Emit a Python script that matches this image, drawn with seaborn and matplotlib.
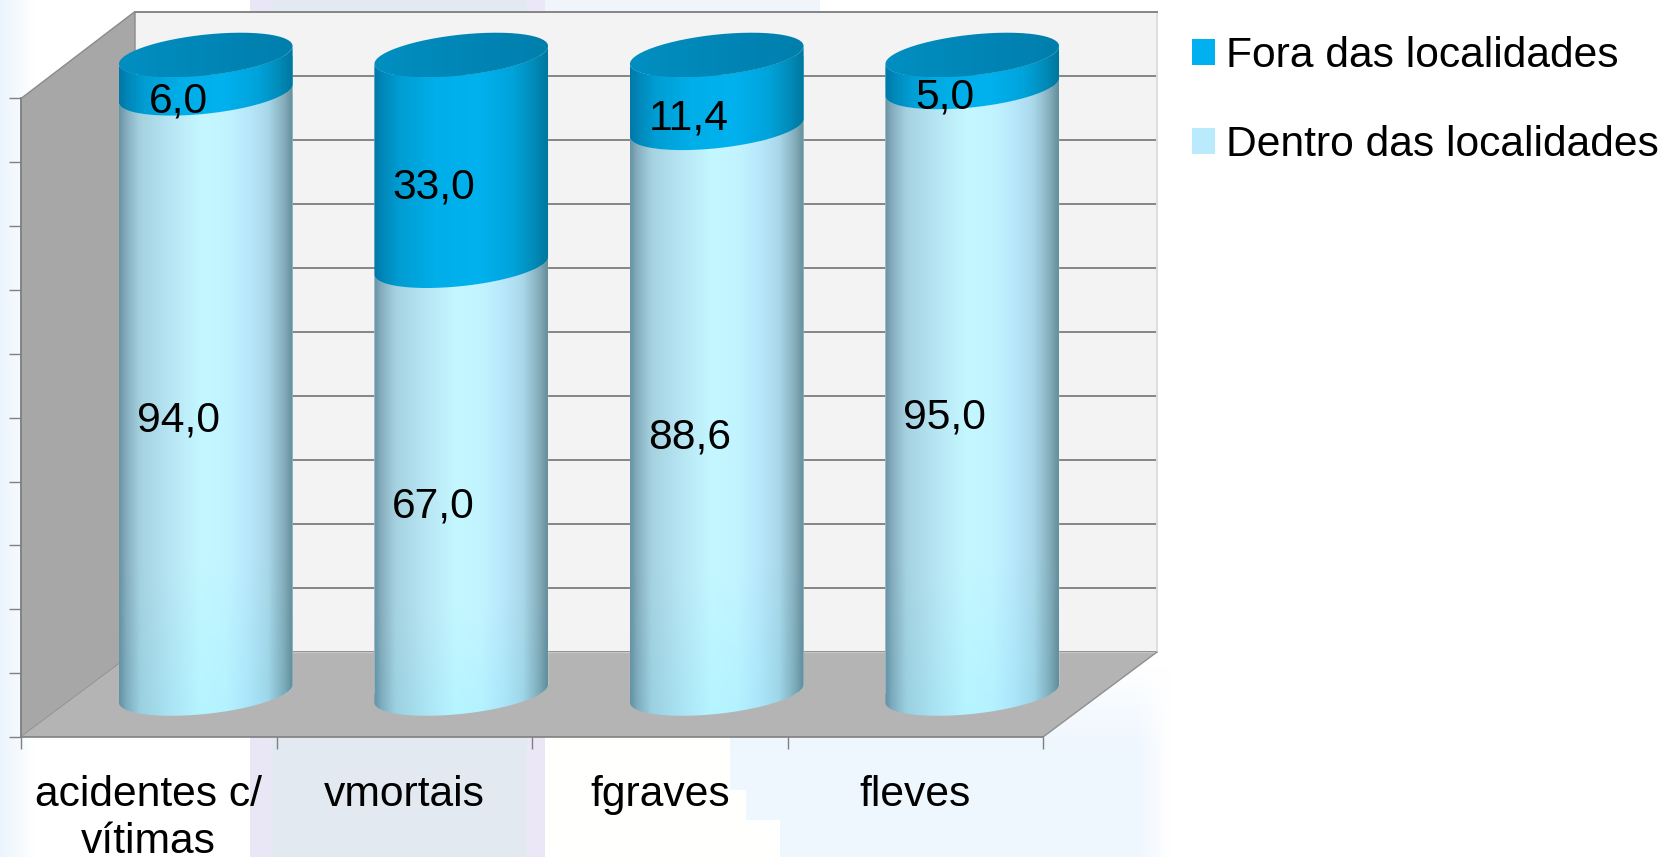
import numpy as np
import matplotlib
matplotlib.use("Agg")
import matplotlib.pyplot as plt
import seaborn as sns
from matplotlib.colors import LinearSegmentedColormap, to_rgb
from matplotlib.patches import Patch, PathPatch, Polygon
from matplotlib.path import Path

# Percentages per indicator
categories = ["acidentes c/\nvítimas", "vmortais", "fgraves", "fleves"]
dentro = [94.0, 67.0, 88.6, 95.0]
fora = [6.0, 33.0, 11.4, 5.0]
series_names = ["Fora das localidades", "Dentro das localidades"]
value_ticks = list(range(0, 101, 10))

W, H = 1661, 857
FONT = ["Liberation Sans", "DejaVu Sans"]
TEXT_SIZE = 30.7
FORA_COLOR = "#00B0F0"
DENTRO_COLOR = "#B9EBFD"
GRID = "#868686"

sns.set_theme(style="white")
plt.rcParams["font.family"] = FONT

fig = plt.figure(figsize=(W / 100, H / 100), dpi=100, facecolor="white")


def axes_at(left, top, right, bottom, z):
    """Axes placed by pixel edges, measured from the top left of the figure."""
    a = fig.add_axes([left / W, 1 - bottom / H, (right - left) / W, (bottom - top) / H])
    a.set_zorder(z)
    return a


# Faint slide artwork behind the chart
canvas = np.ones((H, W, 3))
def tint(x0, x1, y0, y1, color):
    canvas[y0:y1, x0:x1] = to_rgb(color)
tint(545, 820, 0, 60, "#eff5fb")
tint(545, 780, 60, H, "#fffffd")
tint(250, 272, 0, H, "#e9e6f5")
tint(527, 545, 0, H, "#ebe7f6")
tint(272, 527, 0, H, "#e2e9f1")
pale = np.array(to_rgb("#eef6fe"))
xx, yy = np.meshgrid(np.arange(W), np.arange(H))
left_limit = np.select([yy < 790, yy < 820], [730, 746], 780)
alpha = np.clip((1170 - xx) / 34, 0, 1) * np.clip((yy - 665) / 80, 0, 1) * (xx >= left_limit)
canvas = canvas * (1 - alpha[..., None]) + pale * alpha[..., None]
edge = np.clip(1 - np.arange(W) / 34, 0, 1)[None, :, None]
canvas = canvas * (1 - edge) + edge * np.array(to_rgb("#ebf4fd"))

bg = axes_at(0, 0, W, H, 0)
bg.imshow(canvas, aspect="auto", interpolation="bilinear")
bg.axis("off")

# Box geometry: front plane, and how far the back wall is pushed away
x0, x1, y_top, y_bot = 21, 1043, 98.5, 737
dx, dy = 114, 87

# Back wall with its gridlines
back = axes_at(x0 + dx, y_top - dy, x1 + dx, y_bot - dy + 2, 1)
back.set_facecolor("#f3f3f3")
back.set_ylim(0, 100)
back.set_xticks([])
back.set_yticks(value_ticks)
back.tick_params(left=False, labelleft=False)
back.grid(axis="y", color=GRID, lw=1.4)
for name, spine in back.spines.items():
    spine.set_visible(name in ("top", "right"))
    spine.set_color(GRID if name == "top" else "#dedede")
    spine.set_linewidth(1.4)

# Side wall and floor
deco = axes_at(0, 0, W, H, 2)
deco.set_xlim(0, W)
deco.set_ylim(H, 0)
deco.axis("off")
deco.patch.set_alpha(0)
deco.add_patch(Polygon([(x0, y_top), (x0 + dx, y_top - dy), (x0 + dx, y_bot - dy + 2), (x0, y_bot)],
                       fc="#a7a7a7", ec="#8a8a8a", lw=1))
deco.add_patch(Polygon([(x0, y_bot), (x1, y_bot), (x1 + dx, y_bot - dy + 2), (x0 + dx, y_bot - dy + 2)],
                       fc="#b4b4b4", ec="none"))
deco.plot([x0 + dx, x1 + dx], [y_bot - dy + 2] * 2, color="#c6c6c6", lw=1)
deco.plot([x1, x1 + dx], [y_bot, y_bot - dy + 2], color="#8f8f8f", lw=1)

# Front plane carries the axis lines, ticks and category names
front = axes_at(x0, y_top, x1, y_bot, 3)
front.patch.set_alpha(0)
front.set_xlim(-0.5, len(categories) - 0.5)
front.set_ylim(0, 100)
front.set_yticks(value_ticks)
front.set_xticks(np.arange(len(categories) + 1) - 0.5)
front.set_xticks(np.arange(len(categories)), labels=categories, minor=True)
front.tick_params(axis="both", which="major", length=8.5, width=1, color="#808080",
                  labelleft=False, labelbottom=False, left=True, bottom=True)
front.tick_params(axis="x", which="minor", length=0, pad=27.5, labelsize=TEXT_SIZE, labelcolor="black")
for lab in front.get_xticklabels(minor=True):
    lab.set_linespacing(1.23)
for name, spine in front.spines.items():
    spine.set_visible(name in ("left", "bottom"))
    spine.set_color("#808080")
    spine.set_linewidth(1.2)

# Columns stand half way into the box
bars = axes_at(x0 + dx / 2, y_top - dy / 2, x1 + dx / 2, y_bot - dy / 2, 4)
bars.patch.set_alpha(0)
BAR_WIDTH = 0.68
sns.barplot(x=categories, y=dentro, color=DENTRO_COLOR, saturation=1, width=BAR_WIDTH, ax=bars)
sns.barplot(x=categories, y=fora, bottom=dentro, color=FORA_COLOR, saturation=1, width=BAR_WIDTH, ax=bars)
bars.set_xlim(-0.5, len(categories) - 0.5)
bars.set_ylim(0, 100)
bars.axis("off")

light_ramp = LinearSegmentedColormap.from_list("light", [
    (0, "#6a95a6"), (.04, "#86aebe"), (.12, "#a6d2e0"), (.3, "#b8e6f4"), (.47, "#c4f7ff"),
    (.62, "#c2f4ff"), (.74, "#b8e8fb"), (.86, "#a8d8e8"), (.95, "#86aebc"), (1, "#66909c")])
dark_ramp = LinearSegmentedColormap.from_list("dark", [
    (0, "#0079a8"), (.05, "#0088ba"), (.15, "#009ed4"), (.35, "#00aee8"), (.6, "#00b2ef"),
    (.8, "#00a3db"), (.92, "#008cba"), (1, "#00779f")])
cap_ramp = LinearSegmentedColormap.from_list("cap", ["#008fc1", "#0086b7", "#007fac"])

RIM_B, RIM_K = 3.2, 1.4  # ellipse half height and tilt, in value units


def arc(xc, half, yc, t0, t1):
    t = np.linspace(t0, t1, 60)
    return np.column_stack([xc + half * np.cos(t), yc + RIM_B * np.sin(t) + RIM_K * np.cos(t)])


def closed(pts):
    return Path(np.vstack([pts, pts[:1]]), closed=True)


def shade(path, ramp, xc, half, y0, y1, z, floor_tint=False):
    g = ramp(np.linspace(0, 1, 200))[None, :, :3]
    g = np.repeat(g, 60, axis=0)
    if floor_tint:
        # the lower part of a column takes on a slightly deeper blue
        v = np.linspace(0, 1, 60)[:, None, None]
        g = g * (1 - np.array([0.08, 0.01, 0.0]) * np.clip(1 - v / 0.25, 0, 1))
    im = bars.imshow(g, extent=(xc - half, xc + half, y0 - 6, y1 + 6), origin="lower",
                     aspect="auto", interpolation="bilinear", zorder=z)
    im.set_clip_path(PathPatch(path, transform=bars.transData))
    im.set_clip_box(fig.bbox)


rects = list(bars.patches)
for i, (low, high) in enumerate(zip(dentro, fora)):
    half = BAR_WIDTH / 2
    seam = low
    lid = low + high
    # body sections take their outlines from the stacked values
    base_arc = arc(i, half, 0, np.pi, 2 * np.pi)
    seam_arc = arc(i, half, seam, 2 * np.pi, np.pi)
    body_low = closed(np.vstack([base_arc, seam_arc]))
    shade(body_low, light_ramp, i, half, 0, seam, 3, True)
    seam_arc_up = arc(i, half, seam, np.pi, 2 * np.pi)
    lid_arc = arc(i, half, lid, 2 * np.pi, np.pi)
    body_high = closed(np.vstack([seam_arc_up, lid_arc]))
    shade(body_high, dark_ramp, i, half, seam, lid, 4)
    shade(closed(arc(i, half, lid, 0, 2 * np.pi)), cap_ramp, i, half, lid, lid, 5)

    # keep the flat bars inside the rounded outlines
    rects[i].set_clip_path(body_low, bars.transData)
    rects[i + len(dentro)].set_clip_path(body_high, bars.transData)

    # value labels sit slightly towards the viewer
    for value, mid in ((low, low / 2), (high, low + high / 2)):
        bars.annotate(f"{value:.1f}".replace(".", ","), (i, mid), xytext=(-27.5, -27),
                      textcoords="offset pixels", ha="center", va="center",
                      fontsize=TEXT_SIZE, color="black", zorder=8)
bars.set_xlim(-0.5, len(categories) - 0.5)
bars.set_ylim(0, 100)

handles = [Patch(fc=FORA_COLOR, ec="none"), Patch(fc=DENTRO_COLOR, ec="none")]
fig.legend(handles, series_names, loc="upper left", bbox_to_anchor=(1192 / W, 1 - 36 / H),
           frameon=False, fontsize=TEXT_SIZE, handlelength=0.55, handleheight=0.55,
           handletextpad=0.24, labelspacing=1.15, borderpad=0, borderaxespad=0,
           labelcolor="black")

fig.savefig("out.png", dpi=100)
